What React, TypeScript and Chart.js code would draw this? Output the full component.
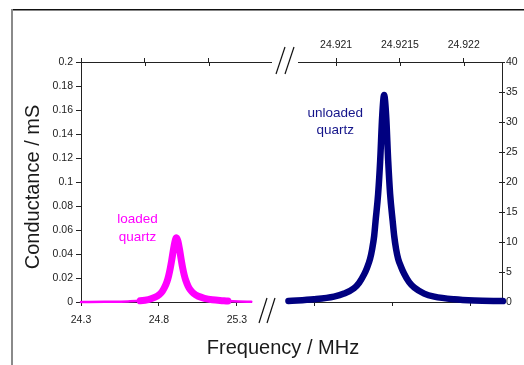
import React, { useEffect, useRef } from 'react';
import { Chart, registerables } from 'chart.js';

Chart.register(...registerables);

// ---- data: loaded quartz (bottom / left axes) ----
const loadedFreq = [
  24.3, 24.452, 24.602, 24.68, 24.732, 24.772, 24.802, 24.822, 24.837, 24.852,
  24.862, 24.872, 24.882, 24.892, 24.902, 24.912, 24.922, 24.932, 24.942, 24.952,
  24.962, 24.972, 24.987, 25.002, 25.022, 25.052, 25.092, 25.142, 25.212, 25.242,
  25.312, 25.392,
];
const loadedCond = [
  0.0, 0.0002, 0.0005, 0.001, 0.002, 0.0038, 0.0062, 0.009, 0.0124, 0.0172,
  0.0218, 0.0278, 0.035, 0.043, 0.05, 0.0535, 0.0505, 0.0438, 0.0358, 0.0284,
  0.0225, 0.018, 0.0132, 0.01, 0.0072, 0.0048, 0.0031, 0.0019, 0.0011, 0.0008,
  0.0004, 0.0002,
];

// ---- data: unloaded quartz (top / right axes) ----
const unloadedFreq = [
  24.920626, 24.920826, 24.920983, 24.921062, 24.92114, 24.92118, 24.921219,
  24.921242, 24.921266, 24.921282, 24.921298, 24.921309, 24.921329, 24.921345,
  24.921361, 24.921376, 24.921392, 24.921408, 24.921423, 24.921443, 24.921455,
  24.92147, 24.921486, 24.92151, 24.921533, 24.921572, 24.921612, 24.92169,
  24.921769, 24.921926, 24.922083, 24.922307,
];
const unloadedCond = [
  0.15, 0.45, 0.9, 1.4, 2.3, 3.2, 4.6,
  5.7, 7.2, 8.8, 11.0, 13.5, 18.0, 23.5,
  31.0, 34.5, 31.0, 23.5, 18.0, 13.5, 11.0,
  8.8, 7.2, 5.8, 4.7, 3.3, 2.4, 1.4,
  0.9, 0.45, 0.25, 0.15,
];

// ---- ticks ----
const bottomTicks = [24.3, 24.8, 25.3, 25.8, 26.3, 26.8];
const bottomTickLabels = ['24.3', '24.8', '25.3'];
const topTicks = [24.919, 24.9195, 24.92, 24.9205, 24.921, 24.9215, 24.922];
const topTickLabels = ['', '', '', '', '24.921', '24.9215', '24.922'];
const leftTicks = [0, 0.02, 0.04, 0.06, 0.08, 0.1, 0.12, 0.14, 0.16, 0.18, 0.2];
const leftTickLabels = ['0', '0.02', '0.04', '0.06', '0.08', '0.1', '0.12', '0.14', '0.16', '0.18', '0.2'];
const rightTicks = [0, 5, 10, 15, 20, 25, 30, 35, 40];
const rightTickLabels = ['0', '5', '10', '15', '20', '25', '30', '35', '40'];

// ---- text ----
const loadedLabel = ['loaded', 'quartz'];
const unloadedLabel = ['unloaded', 'quartz'];
const xTitle = 'Frequency / MHz';
const yTitle = 'Conductance / mS';

const FONT = "'Liberation Sans', Arial, sans-serif";
const AXIS = '#222222';
const MAGENTA = '#ff00ff';
const NAVY = '#000080';

const decorPlugin = {
  id: 'decor',
  beforeDatasetsDraw(chart: any) {
    const { ctx, chartArea: a, scales } = chart;
    ctx.save();
    ctx.strokeStyle = AXIS;
    ctx.lineWidth = 1;
    // inner halves of the crossing ticks on top and right axes
    topTicks.forEach((v) => {
      const px = Math.round(scales.x2.getPixelForValue(v)) + 0.5;
      ctx.beginPath();
      ctx.moveTo(px, a.top);
      ctx.lineTo(px, a.top + 4);
      ctx.stroke();
    });
    rightTicks.forEach((v) => {
      const py = Math.round(scales.y2.getPixelForValue(v)) + 0.5;
      ctx.beginPath();
      ctx.moveTo(a.right - 3, py);
      ctx.lineTo(a.right, py);
      ctx.stroke();
    });
    // axis breaks
    ctx.fillStyle = '#ffffff';
    ctx.fillRect(272, a.top - 8, 26, 16);
    ctx.fillRect(252, a.bottom - 2, 36, 12);
    ctx.restore();
  },
  afterDraw(chart: any) {
    const { ctx, scales } = chart;
    ctx.save();
    // break marks
    ctx.strokeStyle = '#111111';
    ctx.lineWidth = 1.2;
    const slash = (x1: number, y1: number, x2: number, y2: number) => {
      ctx.beginPath();
      ctx.moveTo(x1, y1);
      ctx.lineTo(x2, y2);
      ctx.stroke();
    };
    slash(276, 74, 285, 47);
    slash(285, 74, 294, 47);
    slash(259, 323, 267, 298);
    slash(267, 323, 275, 298);

    // frame
    ctx.fillStyle = '#111111';
    ctx.fillRect(11, 9, 513, 1.5);
    ctx.fillStyle = '#8a8a8a';
    ctx.fillRect(11, 9, 2, 356);

    // annotations
    ctx.font = `13.5px ${FONT}`;
    ctx.textAlign = 'center';
    ctx.textBaseline = 'alphabetic';
    ctx.fillStyle = MAGENTA;
    const lx = scales.x.getPixelForValue(24.663);
    ctx.fillText(loadedLabel[0], lx, scales.y.getPixelForValue(0.0658));
    ctx.fillText(loadedLabel[1], lx, scales.y.getPixelForValue(0.0511));
    ctx.fillStyle = '#14148a';
    const ux = scales.x2.getPixelForValue(24.920993);
    ctx.fillText(unloadedLabel[0], ux, scales.y2.getPixelForValue(30.8));
    ctx.fillText(unloadedLabel[1], ux, scales.y2.getPixelForValue(28.0));

    // axis titles
    ctx.fillStyle = '#1a1a1a';
    ctx.font = `20px ${FONT}`;
    ctx.textAlign = 'center';
    ctx.textBaseline = 'alphabetic';
    ctx.fillText(xTitle, 283, 354);
    ctx.save();
    ctx.translate(33, 187);
    ctx.rotate(-Math.PI / 2);
    ctx.textBaseline = 'middle';
    ctx.fillText(yTitle, 0, 0);
    ctx.restore();
    ctx.restore();
  },
};

const tickFont = { family: FONT, size: 10.5 };

export default function App() {
  const ref = useRef<HTMLCanvasElement | null>(null);

  useEffect(() => {
    document.body.style.margin = '0';
    const canvas = ref.current;
    if (!canvas) return;

    const coreMin = 24.67;
    const coreMax = 25.25;

    const chart = new Chart(canvas, {
      type: 'line',
      data: {
        datasets: [
          {
            label: 'loaded quartz',
            data: loadedFreq.map((x, i) => ({ x, y: loadedCond[i] })),
            xAxisID: 'x',
            yAxisID: 'y',
            borderColor: MAGENTA,
            backgroundColor: MAGENTA,
            borderWidth: 7,
            pointRadius: 0,
            fill: false,
            cubicInterpolationMode: 'monotone',
            borderJoinStyle: 'round',
            borderCapStyle: 'round',
            clip: false,
            segment: {
              borderWidth: (c: any) =>
                c.p0.parsed.x >= coreMin && c.p1.parsed.x <= coreMax ? 7 : 2.5,
            },
          } as any,
          {
            label: 'unloaded quartz',
            data: unloadedFreq.map((x, i) => ({ x, y: unloadedCond[i] })),
            xAxisID: 'x2',
            yAxisID: 'y2',
            borderColor: NAVY,
            backgroundColor: NAVY,
            borderWidth: 6.5,
            pointRadius: 0,
            fill: false,
            cubicInterpolationMode: 'monotone',
            borderJoinStyle: 'round',
            borderCapStyle: 'round',
            clip: false,
          } as any,
        ],
      },
      options: {
        responsive: false,
        animation: false,
        devicePixelRatio: 1,
        layout: { padding: 0 },
        plugins: { legend: { display: false }, tooltip: { enabled: false } },
        scales: {
          x: {
            type: 'linear',
            position: 'bottom',
            min: 24.3,
            max: 27.0,
            afterBuildTicks: (s: any) => {
              s.ticks = bottomTicks.map((value) => ({ value }));
            },
            afterFit: (s: any) => {
              s.height = 63;
            },
            ticks: {
              autoSkip: false,
              maxRotation: 0,
              padding: 8,
              color: AXIS,
              font: tickFont,
              callback: (_v: any, i: number) => bottomTickLabels[i] ?? '',
            },
            grid: { drawOnChartArea: false, drawTicks: true, tickLength: 4, color: AXIS },
            border: { display: true, color: AXIS, width: 1 },
          },
          x2: {
            type: 'linear',
            position: 'top',
            min: 24.919,
            max: 24.9223,
            afterBuildTicks: (s: any) => {
              s.ticks = topTicks.map((value) => ({ value }));
            },
            afterFit: (s: any) => {
              s.height = 62;
            },
            ticks: {
              autoSkip: false,
              maxRotation: 0,
              padding: 6.5,
              color: AXIS,
              font: tickFont,
              callback: (_v: any, i: number) => topTickLabels[i] ?? '',
            },
            grid: { drawOnChartArea: false, drawTicks: true, tickLength: 4, color: AXIS },
            border: { display: true, color: AXIS, width: 1 },
          },
          y: {
            type: 'linear',
            position: 'left',
            min: 0,
            max: 0.2,
            afterBuildTicks: (s: any) => {
              s.ticks = leftTicks.map((value) => ({ value }));
            },
            afterFit: (s: any) => {
              s.width = 81;
            },
            ticks: {
              autoSkip: false,
              padding: 3,
              color: AXIS,
              font: tickFont,
              callback: (_v: any, i: number) => leftTickLabels[i] ?? '',
            },
            grid: { drawOnChartArea: false, drawTicks: true, tickLength: 5, color: AXIS },
            border: { display: true, color: AXIS, width: 1 },
          },
          y2: {
            type: 'linear',
            position: 'right',
            min: 0,
            max: 40,
            afterBuildTicks: (s: any) => {
              s.ticks = rightTicks.map((value) => ({ value }));
            },
            afterFit: (s: any) => {
              s.width = 22;
            },
            ticks: {
              autoSkip: false,
              padding: 1,
              color: AXIS,
              font: tickFont,
              callback: (_v: any, i: number) => rightTickLabels[i] ?? '',
            },
            grid: { drawOnChartArea: false, drawTicks: true, tickLength: 3, color: AXIS },
            border: { display: true, color: AXIS, width: 1 },
          },
        },
      } as any,
      plugins: [decorPlugin],
    });

    return () => chart.destroy();
  }, []);

  return (
    <canvas
      ref={ref}
      width={524}
      height={365}
      style={{ display: 'block', width: 524, height: 365 }}
    />
  );
}
